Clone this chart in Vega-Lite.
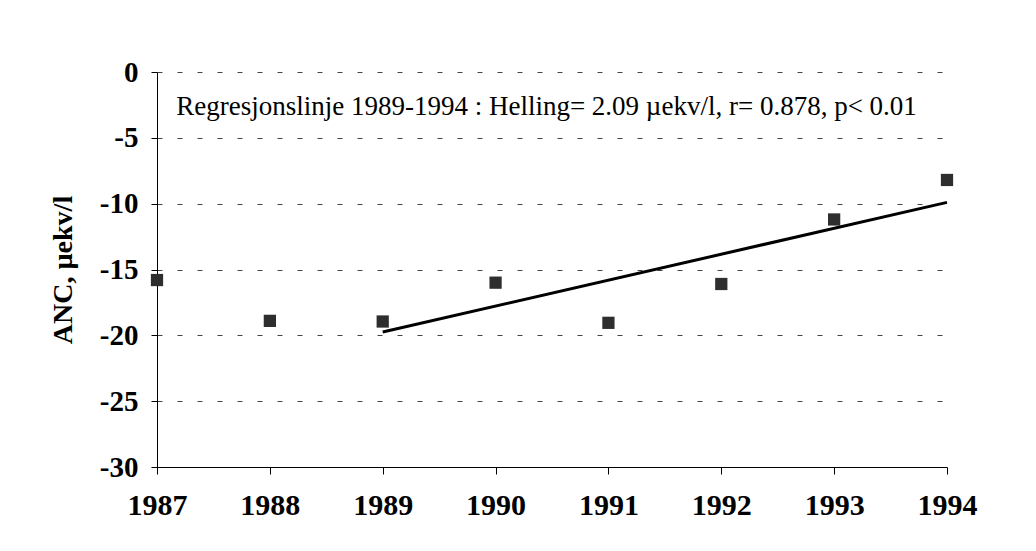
{
  "$schema": "https://vega.github.io/schema/vega-lite/v6.json",
  "autosize": "none",
  "width": 790,
  "height": 395,
  "padding": {"left": 157, "top": 72, "right": 89, "bottom": 84},
  "background": "white",
  "config": {
    "view": {"stroke": null},
    "text": {"font": "Liberation Serif"},
    "axis": {"domainColor": "black", "tickColor": "black", "labelColor": "black", "titleColor": "black",
             "labelFont": "Liberation Serif", "titleFont": "Liberation Serif", "labelFontWeight": "bold", "titleFontWeight": "bold"}
  },
  "datasets": {
    "obs": [
      {"year": 1987, "anc": -15.8},
      {"year": 1988, "anc": -18.9},
      {"year": 1989, "anc": -18.95},
      {"year": 1990, "anc": -16.0},
      {"year": 1991, "anc": -19.05},
      {"year": 1992, "anc": -16.1},
      {"year": 1993, "anc": -11.2},
      {"year": 1994, "anc": -8.2}
    ],
    "fit": [
      {"year": 1989, "anc": -19.75},
      {"year": 1994, "anc": -9.9}
    ],
    "note": [
      {"label": "Regresjonslinje 1989-1994 : Helling= 2.09 µekv/l, r= 0.878, p< 0.01"}
    ]
  },
  "layer": [
    {
      "data": {"name": "obs"},
      "mark": {"type": "point", "shape": "square", "filled": true, "size": 150, "color": "#2e2e2e", "opacity": 1},
      "encoding": {
        "x": {"field": "year", "type": "quantitative",
              "scale": {"domain": [1987, 1994], "nice": false, "zero": false},
              "axis": {"title": null, "values": [1987, 1988, 1989, 1990, 1991, 1992, 1993, 1994],
                       "labelExpr": "'' + datum.value",
                       "grid": false, "labelFontSize": 30, "tickSize": 7, "labelPadding": 16, "labelFlush": false}},
        "y": {"field": "anc", "type": "quantitative",
              "scale": {"domain": [-30, 0], "nice": false, "zero": false},
              "axis": {"title": "ANC, µekv/l", "values": [-30, -25, -20, -15, -10, -5, 0],
                       "labelExpr": "'' + datum.value",
                       "grid": true, "gridDash": [5, 15], "gridColor": "#444", "gridWidth": 1,
                       "labelFontSize": 29, "titleFontSize": 28, "tickSize": 6, "labelPadding": 13, "titlePadding": 22}}
      }
    },
    {
      "data": {"name": "fit"},
      "mark": {"type": "line", "color": "black", "strokeWidth": 3},
      "encoding": {
        "x": {"field": "year", "type": "quantitative"},
        "y": {"field": "anc", "type": "quantitative"}
      }
    },
    {
      "data": {"name": "note"},
      "mark": {"type": "text", "align": "left", "baseline": "middle", "font": "Liberation Serif", "fontSize": 27, "color": "black"},
      "encoding": {
        "x": {"datum": 1987.17, "type": "quantitative"},
        "y": {"datum": -2.65, "type": "quantitative"},
        "text": {"field": "label"}
      }
    }
  ]
}
